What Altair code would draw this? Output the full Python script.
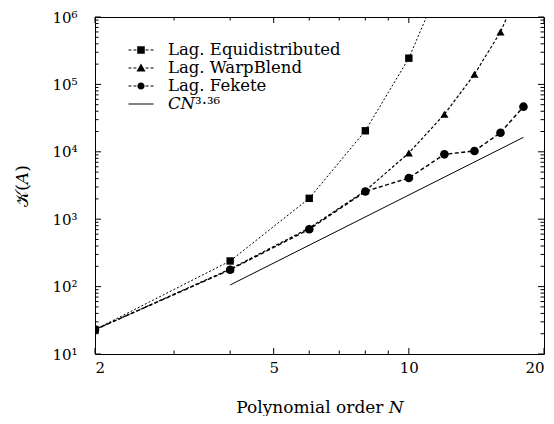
import altair as alt
import pandas as pd

# ---- data ----
N_EQUI = [2, 4, 6, 8, 10, 12]
K_EQUI = [23, 240, 2040, 20500, 245000, 4.2e6]
N_WB = [2, 4, 6, 8, 10, 12, 14, 16, 18]
K_WB = [23, 182, 740, 2640, 9600, 36000, 141000, 600000, 3.6e6]
N_FEK = [2, 4, 6, 8, 10, 12, 14, 16, 18]
K_FEK = [23, 178, 710, 2580, 4080, 9180, 10280, 19200, 46700]
N_FIT = [4, 18]
K_FIT = [105.7, 16400]

SERIES = ["Lag. Equidistributed", "Lag. WarpBlend", "Lag. Fekete", "𝐶𝑁³·³⁶"]

X_TICKS = [2, 5, 10, 20]
X_MINOR = [3, 4, 6, 7, 8, 9]
Y_TICKS = [10, 100, 1000, 10000, 100000, 1000000]
Y_MINOR = [k * 10 ** e for e in range(1, 6) for k in range(2, 10)]

W, H = 449, 337
FONT = "DejaVu Serif"
FS_TICK = 15
FS_TEXT = 17
FS_LEG = 16.5

rows = []
for name, ns, ks in [(SERIES[0], N_EQUI, K_EQUI), (SERIES[1], N_WB, K_WB), (SERIES[2], N_FEK, K_FEK)]:
    for n, k in zip(ns, ks):
        rows.append({"series": name, "N": n, "K": k})
df_pts = pd.DataFrame(rows)
df_fit = pd.DataFrame({"N": N_FIT, "K": K_FIT})

xs = alt.Scale(type="log", domain=[2, 20], nice=False)
ys = alt.Scale(type="log", domain=[10, 1e6], nice=False)

sup = "['⁰','¹','²','³','⁴','⁵','⁶'][round(log(datum.value)/LN10)]"

X_AXIS = alt.Axis(
    values=X_TICKS, ticks=False, tickSize=0, domain=False, grid=False,
    labelFont=FONT, labelFontSize=FS_TICK, labelColor="black", labelPadding=6,
    title="Polynomial order 𝑁", titleFont=FONT, titleFontSize=FS_TEXT, titleFontWeight="normal",
    titleColor="black", titleY=53, titleBaseline="middle")
Y_AXIS = alt.Axis(
    values=Y_TICKS, ticks=False, tickSize=0, domain=False, grid=False,
    labelFont=FONT, labelFontSize=FS_TICK, labelColor="black", labelPadding=18,
    labelExpr="'10' + " + sup,
    title="𝒦(𝐴)", titleFont=FONT, titleFontSize=FS_TEXT, titleFontWeight="normal",
    titleColor="black", titleX=-73, titleY=H / 2, titleAngle=-90, titleBaseline="middle",
    titleAlign="center")

X = alt.X("N:Q", scale=xs, axis=X_AXIS)
Y = alt.Y("K:Q", scale=ys, axis=Y_AXIS)

lines = alt.Chart(df_pts).mark_line(clip=True, color="black").encode(
    x=X, y=Y,
    strokeDash=alt.StrokeDash("series:N", scale=alt.Scale(domain=SERIES[:3], range=[[2, 2], [3, 2], [4, 2.5]]), legend=None),
    strokeWidth=alt.StrokeWidth("series:N", scale=alt.Scale(domain=SERIES[:3], range=[1.0, 1.4, 1.3]), legend=None),
    detail="series:N",
)
points = alt.Chart(df_pts).mark_point(clip=True, filled=True, color="black", opacity=1).encode(
    x=X, y=Y,
    shape=alt.Shape("series:N", scale=alt.Scale(domain=SERIES[:3], range=["square", "triangle-up", "circle"]), legend=None),
    size=alt.Size("series:N", scale=alt.Scale(domain=SERIES[:3], range=[55, 75, 45]), legend=None),
)
fit = alt.Chart(df_fit).mark_line(color="black", strokeWidth=1).encode(x=X, y=Y)


def rect(x0, x1, h=0.055):
    return f"M{x0},{-h}L{x1},{-h}L{x1},{h}L{x0},{h}Z"


dash_l = rect(-1.39, -1.06) + rect(-0.84, -0.51) + rect(0.51, 0.84) + rect(1.06, 1.39)
P_SQ = dash_l + "M-0.42,-0.42L0.42,-0.42L0.42,0.42L-0.42,0.42Z"
P_TR = dash_l + "M0,-0.5L0.5,0.4L-0.5,0.4Z"
P_CI = dash_l + "M-0.4,0A0.4,0.4 0 1,0 0.4,0A0.4,0.4 0 1,0 -0.4,0Z"
P_LN = rect(-1.39, 1.39)

legend_layer = alt.Chart(df_fit).transform_filter("false").mark_point(
    filled=True, color="black").encode(
    x=X, y=Y,
    shape=alt.Shape("series:N", scale=alt.Scale(domain=SERIES, range=[P_SQ, P_TR, P_CI, P_LN]),
                    legend=alt.Legend(title=None, orient="none", legendX=37, legendY=24,
                                      symbolSize=324, symbolFillColor="black",
                                      symbolStrokeWidth=0, symbolOpacity=1, labelOffset=18,
                                      labelFont=FONT, labelFontSize=FS_LEG, labelColor="black",
                                      rowPadding=0, padding=0, labelLimit=400)),
).transform_calculate(series="'x'")


def yticks(vals, x0, x1):
    return alt.Chart(pd.DataFrame({"K": vals})).mark_rule(color="black", strokeWidth=1).encode(
        y=Y, x=alt.value(x0), x2=alt.value(x1))


def xticks(vals, y0, y1):
    return alt.Chart(pd.DataFrame({"N": vals})).mark_rule(color="black", strokeWidth=1).encode(
        x=X, y=alt.value(y0), y2=alt.value(y1))


MAJ, MIN = 6, 3.5
ticks = [
    yticks(Y_TICKS, 0, MAJ), yticks(Y_MINOR, 0, MIN),
    yticks(Y_TICKS, W - MAJ, W), yticks(Y_MINOR, W - MIN, W),
    xticks(X_TICKS, H, H - MAJ), xticks(X_MINOR, H, H - MIN),
    xticks(X_TICKS, 0, MAJ), xticks(X_MINOR, 0, MIN),
]

chart = alt.layer(lines, points, fit, legend_layer, *ticks).resolve_scale(
    shape="independent", size="independent", strokeDash="independent", strokeWidth="independent"
).properties(
    width=W, height=H, autosize="none",
    padding={"left": 87, "top": 9, "right": 2, "bottom": 62},
    background="white",
).configure(font=FONT).configure_axis(labelFont=FONT, titleFont=FONT).configure_legend(
    labelFont=FONT).configure_view(stroke="black", strokeWidth=1)

chart.save("out.html", embed_options={"renderer": "svg", "actions": False})
